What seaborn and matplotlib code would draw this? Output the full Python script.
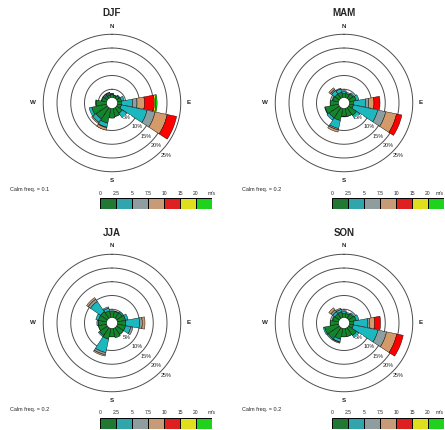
import numpy as np
import matplotlib
matplotlib.use("Agg")
import matplotlib.pyplot as plt
import seaborn as sns

seasons = ["DJF", "MAM", "JJA", "SON"]
calm_freq = ["0.1", "0.2", "0.2", "0.2"]
directions = ["N", "NNE", "NE", "ENE", "E", "ESE", "SE", "SSE",
              "S", "SSW", "SW", "WSW", "W", "WNW", "NW", "NNW"]
speed_edges = ["0", "2.5", "5", "7.5", "10", "15", "20"]
speed_colors = ["#12862a", "#1cb8c0", "#8c9fa0", "#d49a6a",
                "#ff0000", "#ffff00", "#00f000"]
ring_pcts = [5, 10, 15, 20, 25]

# frequency (%) per direction (rows, N clockwise) and speed class (columns)
djf = [[1.0, 0.3, 0.2, 0, 0, 0, 0],
       [0.8, 0.2, 0, 0, 0, 0, 0],
       [1.2, 0.3, 0, 0, 0, 0, 0],
       [1.5, 1.0, 0, 0, 0, 0, 0],
       [1.5, 4.0, 1.6, 2.7, 3.6, 0.5, 0.5],
       [1.5, 9.5, 3.0, 4.5, 3.5, 0, 0],
       [2.5, 2.0, 0, 0, 0, 0, 0],
       [3.0, 0, 0, 0, 0, 0, 0],
       [3.5, 0, 0, 0, 0, 0, 0],
       [5.5, 1.5, 0.2, 0.9, 0, 0, 0],
       [5.0, 1.5, 0, 0.5, 0, 0, 0],
       [5.5, 1.0, 0, 0, 0, 0, 0],
       [3.8, 0.2, 0, 0, 0, 0, 0],
       [1.8, 0.2, 0, 0, 0, 0, 0],
       [1.0, 0.4, 0.4, 0.2, 0, 0, 0],
       [1.0, 0.4, 0.4, 0.2, 0, 0, 0]]

mam = [[1.5, 0.6, 0.4, 0, 0, 0, 0],
       [1.5, 0.5, 0, 0, 0, 0, 0],
       [2.0, 0.5, 0, 0, 0, 0, 0],
       [2.5, 1.0, 0, 0, 0, 0, 0],
       [1.5, 4.4, 1.1, 1.9, 2.2, 0, 0],
       [1.5, 9.0, 3.0, 4.0, 2.0, 0, 0],
       [3.5, 1.5, 0, 0, 0, 0, 0],
       [3.0, 0, 0, 0, 0, 0, 0],
       [2.8, 0.2, 0, 0, 0, 0, 0],
       [4.5, 3.0, 0.5, 0.8, 0, 0, 0],
       [4.5, 1.0, 0, 0, 0, 0, 0],
       [5.0, 0.2, 0, 0, 0, 0, 0],
       [3.0, 0, 0, 0, 0, 0, 0],
       [2.2, 0.3, 0, 0, 0, 0, 0],
       [2.0, 1.5, 0.5, 0.7, 0, 0, 0],
       [2.0, 1.2, 0.3, 0, 0, 0, 0]]

jja = [[2.2, 0.3, 0, 0, 0, 0, 0],
       [2.3, 0.2, 0, 0, 0, 0, 0],
       [2.5, 0.5, 0, 0, 0, 0, 0],
       [3.0, 1.0, 0, 0, 0, 0, 0],
       [3.0, 5.0, 1.0, 1.0, 0, 0, 0],
       [3.0, 2.0, 0.8, 0, 0, 0, 0],
       [3.0, 0, 0, 0, 0, 0, 0],
       [3.5, 0, 0, 0, 0, 0, 0],
       [3.0, 0, 0, 0, 0, 0, 0],
       [4.0, 5.0, 0.8, 0.5, 0, 0, 0],
       [3.5, 0.5, 0, 0, 0, 0, 0],
       [3.0, 0, 0, 0, 0, 0, 0],
       [3.0, 0.5, 0, 0, 0, 0, 0],
       [3.0, 1.0, 0, 0, 0, 0, 0],
       [3.0, 4.5, 1.0, 0.7, 0, 0, 0],
       [2.5, 1.0, 0.5, 0, 0, 0, 0]]

son = [[1.5, 0.6, 0.4, 0, 0, 0, 0],
       [1.5, 0.5, 0, 0, 0, 0, 0],
       [2.0, 0.5, 0, 0, 0, 0, 0],
       [2.5, 1.0, 0, 0, 0, 0, 0],
       [1.5, 5.2, 0.6, 1.8, 2.2, 0, 0],
       [1.5, 9.1, 3.2, 3.8, 2.4, 0, 0],
       [3.5, 1.0, 0, 0, 0, 0, 0],
       [3.0, 0, 0, 0, 0, 0, 0],
       [3.0, 0, 0, 0, 0, 0, 0],
       [4.0, 1.0, 0.2, 0.3, 0, 0, 0],
       [5.0, 0.5, 0, 0, 0, 0, 0],
       [5.2, 0.5, 0, 0, 0, 0, 0],
       [3.0, 0, 0, 0, 0, 0, 0],
       [2.2, 0.3, 0, 0, 0, 0, 0],
       [2.0, 1.0, 0.8, 0.9, 0, 0, 0],
       [2.2, 0.8, 0.5, 0, 0, 0, 0]]

season_data = [djf, mam, jja, son]

sns.set_style("white")
plt.rcParams["font.family"] = ["Liberation Sans", "DejaVu Sans"]

W, H = 445, 430
fig = plt.figure(figsize=(W / 100, H / 100), dpi=100)

PX = 2.75      # pixels per percent
HOLE = 2.0     # calm circle radius
RMAX = 26.0
centers = [(112, 103), (344, 103), (112, 323), (344, 323)]


def px_rect(x, y, w, h):
    return [x / W, 1 - (y + h) / H, w / W, h / H]


theta = np.deg2rad(np.arange(len(directions)) * 22.5)
ring_t = np.linspace(0, 2 * np.pi, 361)

for name, data, calm, (cx, cy) in zip(seasons, season_data, calm_freq, centers):
    R = RMAX * PX
    ax = fig.add_axes(px_rect(cx - R, cy - R, 2 * R, 2 * R), projection="polar")
    ax.set_theta_zero_location("N")
    ax.set_theta_direction(-1)
    ax.set_ylim(0, RMAX)
    ax.axis("off")

    for p in ring_pcts:
        ax.plot(ring_t, np.full_like(ring_t, p), color="0.3", lw=0.7, zorder=1)

    vals = np.array(data)
    bottom = np.full(len(directions), HOLE)
    for k in range(len(speed_edges)):
        m = vals[:, k] > 0
        ax.bar(theta[m], vals[m, k], width=np.deg2rad(21.5), bottom=bottom[m],
               color=speed_colors[k], edgecolor="black", linewidth=0.3, zorder=3)
        bottom += vals[:, k]

    for p in ring_pcts:
        ax.text(np.deg2rad(134), p + 2.5, f"{p}%", fontsize=4, ha="center",
                va="center", zorder=5,
                bbox=dict(fc="white", ec="none", pad=0.2))

    # compass letters and title
    fig.text(cx / W, 1 - (cy - 77) / H, "N", fontsize=4.5, weight="bold", ha="center", va="center")
    fig.text(cx / W, 1 - (cy + 77) / H, "S", fontsize=4.5, weight="bold", ha="center", va="center")
    fig.text((cx - 79) / W, 1 - cy / H, "W", fontsize=4.5, weight="bold", ha="center", va="center")
    fig.text((cx + 77) / W, 1 - cy / H, "E", fontsize=4.5, weight="bold", ha="center", va="center")
    fig.text(cx / W, 1 - (cy - 90) / H, name, fontsize=7, weight="bold", ha="center", va="center")
    fig.text((cx - 102) / W, 1 - (cy + 86) / H, f"Calm freq. = {calm}",
             fontsize=4, ha="left", va="center")

    # speed colour bar
    x0 = cx - 12
    cax = fig.add_axes(px_rect(x0, cy + 95, 112, 11))
    sns.barplot(x=speed_edges, y=[1] * len(speed_edges), hue=speed_edges,
                palette=speed_colors, width=1.0, edgecolor="black",
                linewidth=0.7, legend=False, ax=cax)
    cax.set_xlim(-0.5, len(speed_edges) - 0.5)
    cax.set_ylim(0, 1)
    cax.axis("off")
    for i, lab in enumerate(speed_edges + ["m/s"]):
        lx = x0 + 16 * i
        ha = "center"
        if lx + 5 > W:
            lx, ha = W - 1, "right"
        fig.text(lx / W, 1 - (cy + 90) / H, lab, fontsize=3.6, ha=ha, va="center")

fig.savefig("out.png", dpi=100)
